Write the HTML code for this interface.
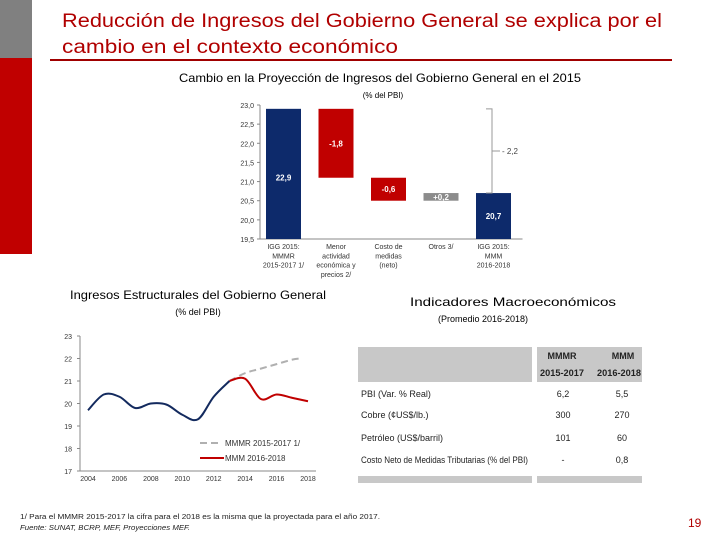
<!DOCTYPE html>
<html><head><meta charset="utf-8"><style>
body{margin:0;width:720px;height:540px;overflow:hidden;background:#fff;font-family:"Liberation Sans",sans-serif}
svg text{font-family:"Liberation Sans",sans-serif}
</style></head><body>
<svg id="s" width="720" height="540" viewBox="0 0 720 540" xmlns="http://www.w3.org/2000/svg">
<rect x="0" y="0" width="32" height="58" fill="#808080"/>
<rect x="0" y="58" width="32" height="196" fill="#c00000"/>
<g fill="#b00000" font-size="19">
<text x="62" y="27" textLength="600" lengthAdjust="spacingAndGlyphs">Reducción de Ingresos del Gobierno General se explica por el</text>
<text x="62" y="53" textLength="336" lengthAdjust="spacingAndGlyphs">cambio en el contexto económico</text>
</g>
<rect x="50" y="59" width="622" height="2" fill="#a00000"/>
<text x="380" y="82" font-size="12" text-anchor="middle" textLength="402" lengthAdjust="spacingAndGlyphs">Cambio en la Proyección de Ingresos del Gobierno General en el 2015</text>
<text x="383" y="98" font-size="8" text-anchor="middle">(% del PBI)</text>
<g id="wf"></g>
<g id="lc"></g>
<text x="198" y="299" font-size="12" text-anchor="middle" textLength="256" lengthAdjust="spacingAndGlyphs">Ingresos Estructurales del Gobierno General</text>
<text x="198" y="315" font-size="9" text-anchor="middle">(% del PBI)</text>
<text x="513" y="306" font-size="12" text-anchor="middle" textLength="206" lengthAdjust="spacingAndGlyphs">Indicadores Macroeconómicos</text>
<text x="483" y="322" font-size="9" text-anchor="middle">(Promedio 2016-2018)</text>
<g font-size="9" fill="#222">
<rect x="358" y="347" width="174" height="35" fill="#c8c8c8"/>
<rect x="537" y="347" width="105" height="35" fill="#c8c8c8"/>
<rect x="358" y="476" width="174" height="7" fill="#c8c8c8"/>
<rect x="537" y="476" width="105" height="7" fill="#c8c8c8"/>
<g font-weight="bold" text-anchor="middle" font-size="9">
<text x="562" y="359">MMMR</text><text x="623" y="359">MMM</text>
<text x="562" y="376" textLength="44" lengthAdjust="spacingAndGlyphs">2015-2017</text><text x="619" y="376" textLength="44" lengthAdjust="spacingAndGlyphs">2016-2018</text>
</g>
<text x="361" y="397">PBI (Var. % Real)</text>
<text x="361" y="418">Cobre (¢US$/lb.)</text>
<text x="361" y="441">Petróleo (US$/barril)</text>
<text x="361" y="463" textLength="167" lengthAdjust="spacingAndGlyphs">Costo Neto de Medidas Tributarias (% del PBI)</text>
<g text-anchor="middle">
<text x="563" y="397">6,2</text><text x="622" y="397">5,5</text>
<text x="563" y="418">300</text><text x="622" y="418">270</text>
<text x="563" y="441">101</text><text x="622" y="441">60</text>
<text x="563" y="463">-</text><text x="622" y="463">0,8</text>
</g>
</g>
<g font-size="7" fill="#222">
<text x="20" y="519" textLength="360" lengthAdjust="spacingAndGlyphs">1/ Para el MMMR 2015-2017 la cifra para el 2018 es la misma que la proyectada para el año 2017.</text>
<text x="20" y="530" font-style="italic" textLength="170" lengthAdjust="spacingAndGlyphs">Fuente: SUNAT, BCRP, MEF, Proyecciones MEF.</text>
</g>
<text x="688" y="527" font-size="12" fill="#b00000">19</text>
</svg>
<script>
// Waterfall data
const wfCats=[["IGG 2015:","MMMR","2015-2017 1/"],["Menor","actividad","económica y","precios 2/"],["Costo de","medidas","(neto)"],["Otros 3/"],["IGG 2015:","MMM","2016-2018"]];
const wfDelta=[22.9,-1.8,-0.6,0.2,20.7];
const wfLabels=["22,9","-1,8","-0,6","+0,2","20,7"];
const wfTicks=[19.5,20.0,20.5,21.0,21.5,22.0,22.5,23.0];
// Line chart data
const lcYears=[2004,2005,2006,2007,2008,2009,2010,2011,2012,2013];
const lcHist=[19.7,20.4,20.3,19.8,20.0,19.95,19.5,19.3,20.3,21.0];
const lcNewYears=[2013,2014,2015,2016,2017,2018];
const lcNew=[21.0,21.1,20.2,20.4,20.25,20.1];
const lcOldYears=[2013,2014,2015,2016,2017,2017.5];
const lcOld=[21.0,21.35,21.55,21.75,21.95,22.0];
const lcYTicks=[17,18,19,20,21,22,23];
const lcXTicks=[2004,2006,2008,2010,2012,2014,2016,2018];

const NS="http://www.w3.org/2000/svg";
function mk(parent,tag,attrs,txt){const e=document.createElementNS(NS,tag);for(const k in attrs)e.setAttribute(k,attrs[k]);if(txt!==undefined)e.textContent=txt;parent.appendChild(e);return e;}

// Waterfall
const wf=document.getElementById('wf');


const wy=v=>105+(23-v)*(134/3.5);
const wx0=260,slot=52.5;
mk(wf,'line',{x1:wx0,y1:105,x2:wx0,y2:wy(19.5),stroke:'#888','stroke-width':1});
mk(wf,'line',{x1:wx0,y1:wy(19.5),x2:wx0+slot*5,y2:wy(19.5),stroke:'#888','stroke-width':1});
wfTicks.forEach(t=>{
  const y=wy(t);
  const tk=mk(wf,'line',{x1:wx0-3,y1:y,x2:wx0,y2:y,stroke:'#888'});
  
  
  const tl=mk(wf,'text',{x:wx0-6,y:y+3,'font-size':7,'text-anchor':'end',fill:'#333'},t.toFixed(1).replace('.',','));
  
  
});
let run=0;
wfDelta.forEach((d,i)=>{
  let top,bot,fill;
  if(i===0||i===wfDelta.length-1){top=d;bot=19.5;fill='#0d2a6b';run=d;}
  else{const a=run,b=run+d;top=Math.max(a,b);bot=Math.min(a,b);fill=d<0?'#c00000':'#8c8c8c';run=b;}
  const x=wx0+6+i*slot,w=35;
  const r=mk(wf,'rect',{x:x,y:wy(top),width:w,height:wy(bot)-wy(top),fill:fill});
  
  
  const ly=(i===0)?wy(21.0)-1:(i===4?wy(20.1)+3:(wy(top)+wy(bot))/2+3);
  const l=mk(wf,'text',{x:x+w/2,y:ly,'font-size':8,'text-anchor':'middle',fill:'#fff','font-weight':'bold'},wfLabels[i]);
  
  
  wfCats[i].forEach((s,j)=>{
    const c=mk(wf,'text',{x:x+w/2,y:249+j*9.3,'font-size':7,'text-anchor':'middle',fill:'#333'},s);
    
    
  });
});
const br=mk(wf,'path',{d:`M486 ${wy(22.9)} h6 V${wy(20.7)} h-6 M492 ${(wy(22.9)+wy(20.7))/2} h8`,fill:'none',stroke:'#999','stroke-width':1});


const bl=mk(wf,'text',{x:502,y:(wy(22.9)+wy(20.7))/2+3,'font-size':8,fill:'#444'},'- 2,2');



// Line chart
const lc=document.getElementById('lc');


const ly=v=>336+(23-v)*22.5;
const lx=yr=>88+(yr-2004)*(220/14);
mk(lc,'line',{x1:80,y1:336,x2:80,y2:ly(17),stroke:'#888'});
mk(lc,'line',{x1:80,y1:ly(17),x2:316,y2:ly(17),stroke:'#888'});
lcYTicks.forEach(t=>{
  const e=mk(lc,'text',{x:72,y:ly(t)+3,'font-size':7,'text-anchor':'end',fill:'#333'},t);
  
  
  mk(lc,'line',{x1:77,y1:ly(t),x2:80,y2:ly(t),stroke:'#888'});
});
lcXTicks.forEach(t=>{
  const e=mk(lc,'text',{x:lx(t),y:ly(17)+10,'font-size':7,'text-anchor':'middle',fill:'#333'},t);
  
  
});
function smooth(xs,ys){
  const p=xs.map((x,i)=>[lx(x),ly(ys[i])]);
  let d=`M${p[0][0]},${p[0][1]}`;
  for(let i=0;i<p.length-1;i++){
    const p0=p[i-1]||p[i],p1=p[i],p2=p[i+1],p3=p[i+2]||p2;
    d+=` C${p1[0]+(p2[0]-p0[0])/6},${p1[1]+(p2[1]-p0[1])/6} ${p2[0]-(p3[0]-p1[0])/6},${p2[1]-(p3[1]-p1[1])/6} ${p2[0]},${p2[1]}`;
  }
  return d;
}
const g1=mk(lc,'path',{d:smooth(lcOldYears,lcOld),fill:'none',stroke:'#b0b0b0','stroke-width':2,'stroke-dasharray':'7,4'});


const g2=mk(lc,'path',{d:smooth(lcNewYears,lcNew),fill:'none',stroke:'#c00000','stroke-width':2});


const g3=mk(lc,'path',{d:smooth(lcYears,lcHist),fill:'none',stroke:'#132a5e','stroke-width':2});


const le1=mk(lc,'g',{});


mk(le1,'line',{x1:200,y1:443,x2:222,y2:443,stroke:'#b0b0b0','stroke-width':2,'stroke-dasharray':'7,4'});
mk(le1,'text',{x:225,y:446,'font-size':8,fill:'#333'},'MMMR 2015-2017 1/');
const le2=mk(lc,'g',{});


mk(le2,'line',{x1:200,y1:458,x2:224,y2:458,stroke:'#c00000','stroke-width':2});
mk(le2,'text',{x:225,y:461,'font-size':8,fill:'#333'},'MMM 2016-2018');
</script>
</body></html>
